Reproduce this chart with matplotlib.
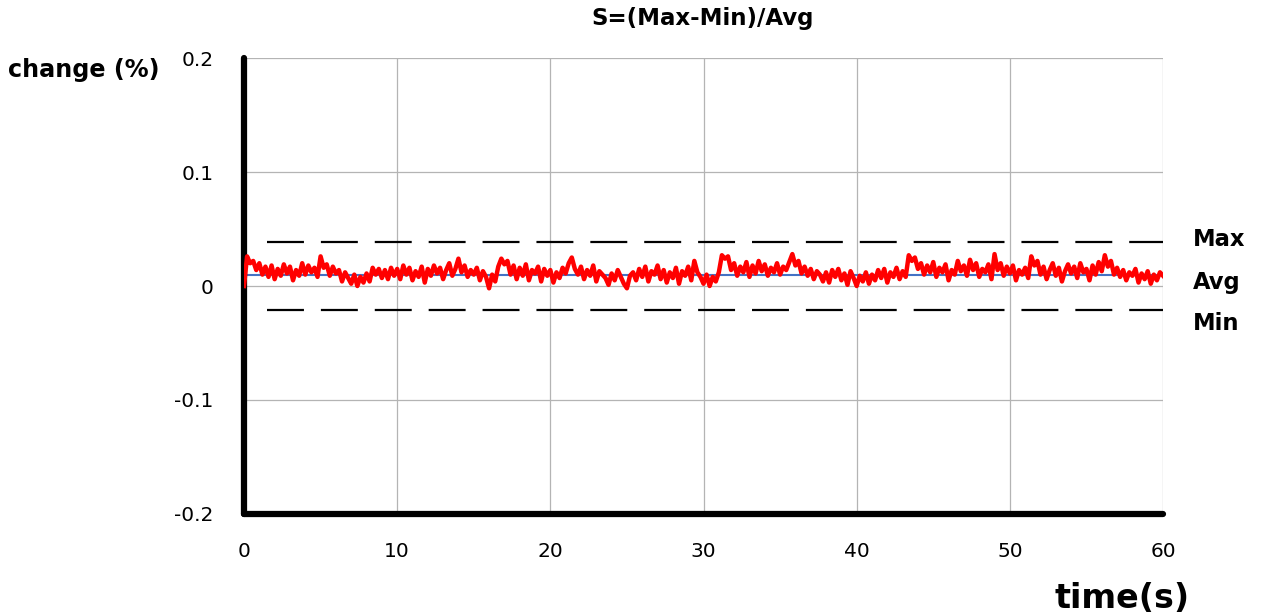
import numpy as np
import matplotlib
matplotlib.use("Agg")
import matplotlib.pyplot as plt

plt.rcParams['font.family'] = ['DejaVu Sans']
plt.rcParams['lines.scale_dashes'] = False

title = "S=(Max-Min)/Avg"
x_ticks = [0, 10, 20, 30, 40, 50, 60]
y_ticks = [-0.2, -0.1, 0.0, 0.1, 0.2]
y_tick_labels = ["-0.2", "-0.1", "0", "0.1", "0.2"]

max_level = 0.0386
min_level = -0.021
avg_level = 0.0096
ref_start = 1.5

# signal in thousandths of a percent, 5 samples per second, 0..60 s
signal_milli = [
    0, 26, 20, 22, 14,   20, 10, 17, 8, 18,   6, 15, 9, 19, 11,   17, 5, 14, 9, 20,
    10, 18, 12, 16, 8,   26, 16, 19, 9, 17,   11, 14, 4, 12, 7,   2, 10, 0, 8, 3,
    11, 4, 16, 10, 15,   7, 14, 6, 16, 9,
    15, 6, 18, 10, 16,   5, 13, 8, 17, 3,   15, 9, 18, 11, 16,   6, 14, 20, 9, 15,
    24, 12, 18, 8, 14,   10, 16, 5, 13, 8,   -2, 10, 4, 17, 24,   19, 22, 10, 18, 6,
    16, 9, 19, 5, 14,   11, 17, 4, 15, 9,
    14, 3, 12, 7, 16,   11, 20, 25, 15, 10,   17, 6, 14, 9, 18,   4, 13, 10, 7, 1,
    11, 5, 14, 8, 2,   -2, 9, 12, 5, 15,   8, 17, 4, 13, 10,   18, 6, 14, 3, 12,
    7, 16, 2, 13, 9,   17, 5, 22, 12, 8,
    2, 10, 0, 8, 4,   12, 27, 24, 26, 14,   20, 9, 17, 12, 21,   8, 18, 11, 22, 13,
    19, 9, 16, 12, 20,   10, 17, 14, 21, 28,   18, 22, 11, 17, 9,   15, 6, 13, 10, 4,
    12, 3, 14, 8, 15,   5, 11, 1, 13, 7,
    0, 9, 4, 12, 2,   10, 5, 14, 7, 15,   3, 12, 8, 16, 6,   13, 8, 27, 22, 25,
    15, 20, 10, 18, 12,   21, 8, 16, 12, 19,   5, 14, 10, 22, 13,   18, 9, 23, 14, 20,
    8, 15, 12, 19, 6,   28, 14, 20, 9, 17,
    11, 18, 5, 14, 10,   16, 7, 26, 18, 22,   10, 17, 6, 14, 20,   9, 16, 4, 13, 19,
    11, 17, 7, 20, 12,   15, 5, 18, 10, 21,   13, 27, 17, 22, 10,   16, 8, 14, 5, 12,
    9, 15, 3, 11, 6,   13, 2, 10, 5, 12,
    9,
]
signal = np.array(signal_milli) / 1000.0
time = np.linspace(0, 60, len(signal))

fig = plt.figure(figsize=(12.61, 6.16), dpi=100)
ax = fig.add_axes([0.1935, 0.1656, 0.9223 - 0.1935, 0.9058 - 0.1656])

ax.set_xlim(0, 60)
ax.set_ylim(-0.2, 0.2)
ax.set_xticks(x_ticks)
ax.set_yticks(y_ticks)
ax.set_yticklabels(y_tick_labels)
ax.tick_params(length=0, labelsize=14.5)
ax.tick_params(axis='y', pad=22)
ax.tick_params(axis='x', pad=20)
ax.grid(True, color='#b4b4b4', linewidth=0.9)
ax.set_axisbelow(True)

for s in ['top', 'right']:
    ax.spines[s].set_visible(False)
for s in ['left', 'bottom']:
    ax.spines[s].set_linewidth(4.5)
    ax.spines[s].set_capstyle('round')
    ax.spines[s].set_color('black')

ax.plot([0, 60], [avg_level, avg_level], color='#4472C4', linewidth=1.5, zorder=2)
for lvl in (max_level, min_level):
    ax.plot([ref_start, 60], [lvl, lvl], color='black', linewidth=1.6,
            dashes=(26.6, 12.2), zorder=2)
ax.plot(time, signal, color='#ff0000', linewidth=3.2, zorder=3)

fig.text(703 / 1261, 1 - 19 / 616, title, fontsize=16.5, fontweight='bold',
         ha='center', va='center')
fig.text(8 / 1261, 1 - 70 / 616, "change (%)", fontsize=17.2, fontweight='bold',
         ha='left', va='center')
fig.text(1190 / 1261, 1 - 598 / 616, "time(s)", fontsize=24, fontweight='bold',
         ha='right', va='center')
for lbl, ypix in (("Max", 240), ("Avg", 283), ("Min", 323)):
    fig.text(1193 / 1261, 1 - ypix / 616, lbl, fontsize=16.3, fontweight='bold',
             ha='left', va='center')

fig.savefig("out.png", dpi=100)
